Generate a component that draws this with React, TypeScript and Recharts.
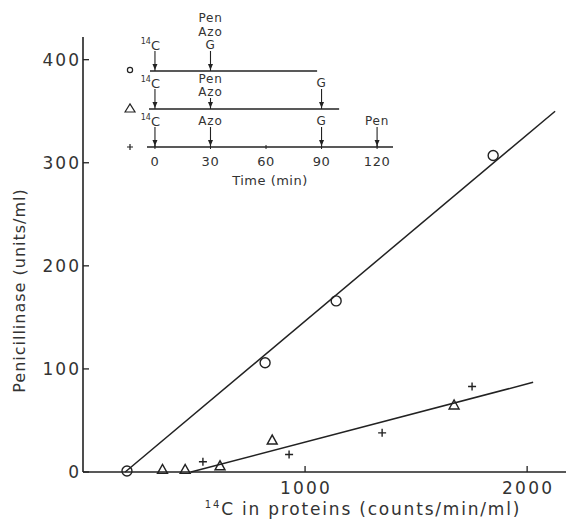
import React from 'react'
import { ComposedChart, Line, Scatter, XAxis, YAxis, Label } from 'recharts'

const circlePoints = [
  { x: 198, y: 1 },
  { x: 820, y: 106 },
  { x: 1140, y: 166 },
  { x: 1847, y: 307 },
]
const trianglePoints = [
  { x: 358, y: 2.5 },
  { x: 460, y: 2.5 },
  { x: 617, y: 6 },
  { x: 852, y: 31 },
  { x: 1671, y: 65 },
]
const crossPoints = [
  { x: 540, y: 10 },
  { x: 928, y: 17 },
  { x: 1347, y: 38 },
  { x: 1752, y: 83 },
]
const upperFit = [
  { x: 190, y: 0 },
  { x: 2126, y: 350 },
]
const lowerFit = [
  { x: 486, y: 0 },
  { x: 2027, y: 87 },
]
const xTicks = [1000, 2000]
const yTicks = [0, 100, 200, 300, 400]

// inset: time course of additions (rows: 3 = o, 2 = triangle, 1 = +)
const insetTimeTicks = [0, 30, 60, 90, 120]
const insetRowTicks = [1, 2, 3]
const circleRow = [
  { t: -2.7, row: 3 },
  { t: 87.6, row: 3 },
]
const triangleRow = [
  { t: -3.2, row: 2 },
  { t: 99.5, row: 2 },
]
const insetEvents = [
  { t: 0, row: 3, labels: ['14C'] },
  { t: 30, row: 3, labels: ['G', 'Azo', 'Pen'] },
  { t: 0, row: 2, labels: ['14C'] },
  { t: 30, row: 2, labels: ['Azo', 'Pen'] },
  { t: 90, row: 2, labels: ['G'] },
  { t: 0, row: 1, labels: ['14C'] },
  { t: 30, row: 1, labels: ['Azo'] },
  { t: 90, row: 1, labels: ['G'] },
  { t: 120, row: 1, labels: ['Pen'] },
]

const INK = '#222'
const TEXT = '#333'
const FONT = '"DejaVu Sans", Verdana, sans-serif'

const CircleMark = (p: any) => (
  <circle cx={p.cx} cy={p.cy} r={5} fill="none" stroke={INK} strokeWidth={1.4} />
)
const TriangleMark = (p: any) => (
  <path
    d={`M${p.cx - 5},${p.cy + 4} L${p.cx},${p.cy - 5} L${p.cx + 5},${p.cy + 4} Z`}
    fill="none"
    stroke={INK}
    strokeWidth={1.4}
  />
)
const CrossMark = (p: any) => (
  <path
    d={`M${p.cx - 4},${p.cy} L${p.cx + 4},${p.cy} M${p.cx},${p.cy - 4} L${p.cx},${p.cy + 4}`}
    stroke={INK}
    strokeWidth={1.4}
  />
)

const YTick = (p: any) => (
  <g>
    <line x1={p.x} x2={p.x + 6} y1={p.y} y2={p.y} stroke={INK} strokeWidth={1.3} />
    <text
      x={p.x - 2}
      y={p.y}
      textAnchor="end"
      dominantBaseline="central"
      fontSize={17}
      letterSpacing={2}
      fill={TEXT}
      fontFamily={FONT}
    >
      {p.payload.value}
    </text>
  </g>
)

const XTick = (p: any) => (
  <g>
    <line x1={p.x} x2={p.x} y1={p.y} y2={p.y - 6} stroke={INK} strokeWidth={1.3} />
    <text
      x={p.x + 1}
      y={p.y + 16}
      textAnchor="middle"
      dominantBaseline="central"
      fontSize={17}
      letterSpacing={2.2}
      fill={TEXT}
      fontFamily={FONT}
    >
      {p.payload.value}
    </text>
  </g>
)

// label text, with the isotope number as superscript
function EventText({ x, y, value }: { x: number; y: number; value: string }) {
  if (value === '14C') {
    return (
      <text x={x + 5} y={y} textAnchor="end" dominantBaseline="central" fill={TEXT} fontFamily={FONT}>
        <tspan fontSize={8} dy={-4}>14</tspan>
        <tspan fontSize={13} dy={4}>C</tspan>
      </text>
    )
  }
  return (
    <text
      x={x}
      y={y}
      textAnchor="middle"
      dominantBaseline="central"
      fontSize={12}
      letterSpacing={0.8}
      fill={TEXT}
      fontFamily={FONT}
    >
      {value}
    </text>
  )
}

const EventMark = (p: any) => {
  const labels: string[] = p.payload.labels
  const len = labels.length > 1 && p.payload.row < 3 ? 11 : 20
  const top = p.cy - len
  return (
    <g>
      <line x1={p.cx} x2={p.cx} y1={top} y2={p.cy} stroke={INK} strokeWidth={1.1} />
      <path
        d={`M${p.cx - 2.5},${p.cy - 7} L${p.cx},${p.cy - 1} L${p.cx + 2.5},${p.cy - 7} Z`}
        fill={INK}
      />
      {labels.map((l, i) => (
        <EventText key={i} x={p.cx} y={top - 6 - i * 13.5} value={l} />
      ))}
    </g>
  )
}

const RowTick = (p: any) => {
  const x = p.x - 17
  const y = p.y
  const v = p.payload.value
  if (v === 3) return <circle cx={x} cy={y - 1} r={2.6} fill="none" stroke={INK} strokeWidth={1.2} />
  if (v === 2)
    return (
      <path
        d={`M${x - 5},${y + 3} L${x},${y - 5} L${x + 5},${y + 3} Z`}
        fill="none"
        stroke={INK}
        strokeWidth={1.2}
      />
    )
  return (
    <path d={`M${x - 3},${y} L${x + 3},${y} M${x},${y - 3} L${x},${y + 3}`} stroke={INK} strokeWidth={1.2} />
  )
}

const InsetTick = (p: any) => (
  <g>
    <line x1={p.x} x2={p.x} y1={p.y - 2} y2={p.y + 2} stroke={INK} strokeWidth={1} />
    <text
      x={p.x}
      y={p.y + 14}
      textAnchor="middle"
      dominantBaseline="central"
      fontSize={13}
      letterSpacing={0.6}
      fill={TEXT}
      fontFamily={FONT}
    >
      {p.payload.value}
    </text>
  </g>
)

function Inset() {
  return (
    <ComposedChart
      width={310}
      height={192}
      margin={{ top: 14, right: 17, bottom: 5, left: 17 }}
      style={{ position: 'absolute', left: 100, top: 0 }}
    >
      <XAxis
        type="number"
        dataKey="t"
        domain={[-4.3, 128.6]}
        ticks={insetTimeTicks}
        tick={InsetTick}
        tickLine={false}
        tickSize={0}
        tickMargin={0}
        height={40}
        axisLine={{ stroke: INK, strokeWidth: 1.3 }}
      >
        <Label
          value="Time (min)"
          position="insideBottom"
          offset={2}
          fontSize={13}
          letterSpacing={0.5}
          fill={TEXT}
          fontFamily={FONT}
        />
      </XAxis>
      <YAxis
        type="number"
        dataKey="row"
        domain={[1, 4.5]}
        ticks={insetRowTicks}
        tick={RowTick}
        tickLine={false}
        tickSize={0}
        tickMargin={0}
        axisLine={false}
        width={30}
      />
      <Line data={circleRow} dataKey="row" stroke={INK} strokeWidth={1.3} dot={false} isAnimationActive={false} />
      <Line data={triangleRow} dataKey="row" stroke={INK} strokeWidth={1.3} dot={false} isAnimationActive={false} />
      <Scatter data={insetEvents} shape={EventMark} isAnimationActive={false} />
    </ComposedChart>
  )
}

export default function App() {
  return (
    <div style={{ position: 'absolute', left: 0, top: 0, width: 566, height: 521, background: '#fff' }}>
      <ComposedChart width={566} height={521} margin={{ top: 37, right: 0, bottom: 0, left: 0 }}>
        <XAxis
          type="number"
          dataKey="x"
          domain={[0, 2175]}
          ticks={xTicks}
          tick={XTick}
          tickLine={false}
          tickSize={0}
          tickMargin={0}
          height={49}
          axisLine={{ stroke: INK, strokeWidth: 1.6 }}
        >
          <Label
            content={({ viewBox }: any) => (
              <text
                x={viewBox.x + 280}
                y={viewBox.y + 37}
                textAnchor="middle"
                dominantBaseline="central"
                fill={TEXT}
                fontFamily={FONT}
                letterSpacing={1.8}
              >
                <tspan fontSize={10} dy={-5}>14</tspan>
                <tspan fontSize={17} dy={5}>C in proteins (counts/min/ml)</tspan>
              </text>
            )}
          />
        </XAxis>
        <YAxis
          type="number"
          dataKey="y"
          domain={[0, 422]}
          ticks={yTicks}
          tick={YTick}
          tickLine={false}
          tickSize={0}
          tickMargin={0}
          width={83}
          axisLine={{ stroke: INK, strokeWidth: 1.6 }}
        >
          <Label
            value="Penicillinase (units/ml)"
            angle={-90}
            position="insideLeft"
            offset={19}
            dy={36}
            fontSize={16}
            letterSpacing={1}
            fill={TEXT}
            fontFamily={FONT}
            style={{ textAnchor: 'middle' }}
          />
        </YAxis>
        <Line data={upperFit} dataKey="y" stroke={INK} strokeWidth={1.5} dot={false} isAnimationActive={false} />
        <Line data={lowerFit} dataKey="y" stroke={INK} strokeWidth={1.5} dot={false} isAnimationActive={false} />
        <Scatter data={circlePoints} shape={CircleMark} isAnimationActive={false} />
        <Scatter data={trianglePoints} shape={TriangleMark} isAnimationActive={false} />
        <Scatter data={crossPoints} shape={CrossMark} isAnimationActive={false} />
      </ComposedChart>
      <Inset />
    </div>
  )
}
